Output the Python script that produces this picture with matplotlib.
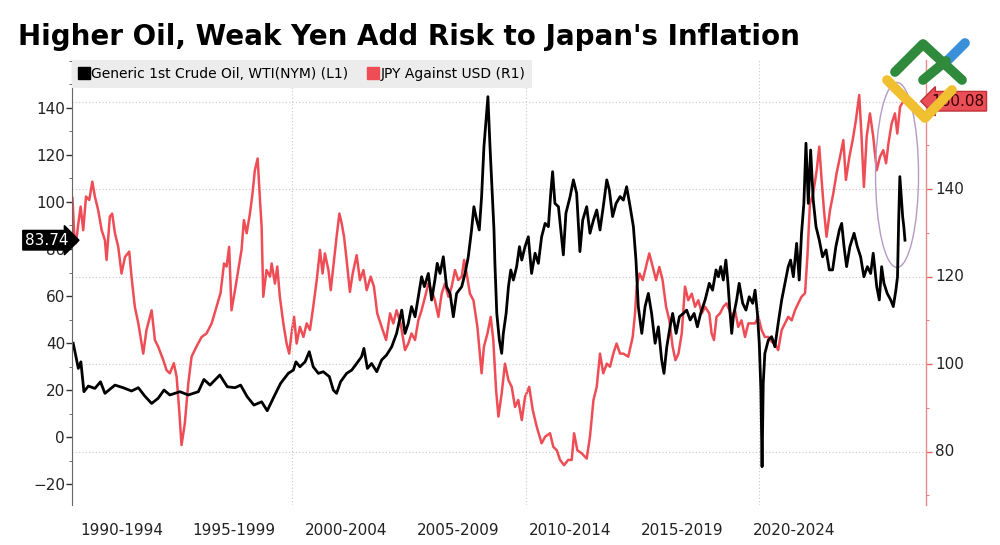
import matplotlib
matplotlib.use("Agg")
import matplotlib.pyplot as plt
from matplotlib.lines import Line2D
from matplotlib.patches import Ellipse
from matplotlib.ticker import MultipleLocator, FixedLocator, NullFormatter

# values (decimal year, value)
oil_years = [1990.63, 1990.75, 1990.85, 1990.96, 1991.09, 1991.28, 1991.56, 1991.80, 1991.99, 1992.42,
             1992.77, 1993.13, 1993.42, 1993.70, 1993.99, 1994.27, 1994.52, 1994.77, 1995.20, 1995.56,
             1995.99, 1996.23, 1996.49, 1996.91, 1997.23, 1997.56, 1997.80, 1998.08, 1998.37, 1998.70,
             1998.94, 1999.23, 1999.51, 1999.84, 2000.06, 2000.17, 2000.34, 2000.56, 2000.74, 2000.91,
             2001.13, 2001.34, 2001.60, 2001.77, 2001.91, 2002.08, 2002.34, 2002.56, 2002.77, 2002.98,
             2003.08, 2003.23, 2003.41, 2003.63, 2003.84, 2004.05, 2004.27, 2004.48, 2004.70, 2004.84,
             2004.98, 2005.12, 2005.27, 2005.41, 2005.55, 2005.67, 2005.84, 2005.98, 2006.12, 2006.22,
             2006.34, 2006.48, 2006.62, 2006.77, 2006.91, 2007.05, 2007.27, 2007.41, 2007.55, 2007.69,
             2007.79, 2007.91, 2008.02, 2008.12, 2008.22, 2008.31, 2008.39, 2008.48, 2008.65, 2008.69,
             2008.77, 2008.88, 2008.98, 2009.05, 2009.17, 2009.27, 2009.37, 2009.48, 2009.62, 2009.74,
             2009.84, 2009.98, 2010.12, 2010.26, 2010.41, 2010.55, 2010.69, 2010.84, 2010.98, 2011.08,
             2011.16, 2011.26, 2011.41, 2011.51, 2011.62, 2011.73, 2011.91, 2012.05, 2012.19, 2012.33,
             2012.45, 2012.62, 2012.76, 2012.91, 2013.05, 2013.19, 2013.33, 2013.48, 2013.59, 2013.73,
             2013.88, 2014.05, 2014.19, 2014.33, 2014.48, 2014.62, 2014.73, 2014.83, 2014.98, 2015.12,
             2015.26, 2015.40, 2015.55, 2015.69, 2015.83, 2015.93, 2016.05, 2016.19, 2016.30, 2016.45,
             2016.59, 2016.76, 2016.90, 2017.05, 2017.22, 2017.36, 2017.50, 2017.69, 2017.87, 2018.01,
             2018.16, 2018.26, 2018.36, 2018.47, 2018.58, 2018.67, 2018.75, 2018.83, 2018.90, 2019.04,
             2019.15, 2019.30, 2019.44, 2019.58, 2019.73, 2019.83, 2019.93, 2020.01, 2020.08, 2020.13,
             2020.18, 2020.25, 2020.40, 2020.54, 2020.68, 2020.82, 2020.97, 2021.11, 2021.25, 2021.35,
             2021.47, 2021.61, 2021.72, 2021.82, 2021.92, 2022.01, 2022.11, 2022.21, 2022.32, 2022.44,
             2022.58, 2022.72, 2022.87, 2023.01, 2023.15, 2023.29, 2023.44, 2023.54, 2023.64, 2023.75,
             2023.89, 2024.07, 2024.21, 2024.35, 2024.49, 2024.64, 2024.78, 2024.89, 2025.04, 2025.15,
             2025.25, 2025.35, 2025.49, 2025.64, 2025.75, 2025.86, 2025.93, 2025.98, 2026.03, 2026.09,
             2026.15, 2026.20, 2026.25]
oil_values = [39.9, 34.2, 29.2, 32.0, 19.3, 21.7, 20.7, 23.5, 18.6, 22.1,
              21.0, 19.6, 21.0, 17.4, 14.3, 16.5, 20.0, 17.9, 19.3, 17.9,
              19.3, 24.5, 22.1, 26.4, 21.4, 21.0, 22.1, 17.2, 13.6, 15.0,
              11.2, 17.2, 22.8, 27.1, 28.5, 32.0, 29.9, 32.0, 36.3, 29.9,
              27.1, 27.8, 25.7, 20.0, 18.6, 23.5, 27.1, 28.5, 31.3, 34.2,
              37.7, 29.2, 31.3, 27.8, 32.8, 34.9, 38.4, 44.1, 54.0, 44.1,
              48.4, 55.5, 51.2, 59.7, 68.2, 64.0, 69.6, 58.3, 66.8, 73.9,
              69.6, 76.7, 64.0, 61.1, 51.2, 61.1, 64.0, 69.6, 76.7, 88.1,
              98.0, 92.3, 88.1, 102.3, 123.5, 134.9, 144.8, 123.5, 88.1, 73.9,
              52.6, 41.3, 35.6, 44.1, 52.6, 64.0, 71.1, 66.8, 72.5, 81.0,
              75.3, 81.0, 85.2, 69.6, 78.2, 73.9, 85.2, 90.9, 89.5, 103.7,
              112.9, 99.4, 98.0, 88.1, 77.5, 95.2, 102.3, 109.4, 103.7, 78.9,
              92.3, 98.0, 86.7, 92.3, 96.6, 88.1, 98.0, 109.4, 105.1, 93.8,
              99.4, 102.3, 100.8, 106.5, 98.0, 89.5, 75.3, 55.5, 44.1, 55.5,
              61.1, 52.6, 39.9, 46.9, 32.8, 27.1, 38.4, 46.9, 52.6, 44.1,
              51.2, 52.6, 54.0, 49.8, 52.6, 46.9, 52.6, 58.3, 65.4, 62.5,
              71.1, 68.2, 72.5, 66.8, 75.3, 65.4, 54.0, 44.1, 51.2, 58.3,
              65.4, 56.9, 54.0, 59.7, 56.9, 62.5, 52.6, 39.9, 20.0, -12.6,
              22.8, 35.6, 41.3, 42.7, 38.4, 48.4, 58.3, 65.4, 72.5, 75.3,
              68.2, 82.4, 66.8, 86.7, 99.4, 125.0, 99.4, 122.1, 100.8, 89.5,
              83.8, 76.7, 79.6, 71.1, 71.1, 81.0, 88.1, 90.9, 81.0, 72.5,
              81.0, 86.7, 81.0, 76.7, 68.2, 72.5, 69.6, 78.2, 64.0, 58.3,
              72.5, 65.4, 61.1, 58.3, 55.5, 62.5, 68.2, 92.3, 110.8, 102.3,
              93.8, 89.5, 83.74]

jpy_years = [1990.60, 1990.68, 1990.75, 1990.85, 1990.95, 1991.06, 1991.18, 1991.32, 1991.45, 1991.56,
             1991.70, 1991.85, 1991.99, 1992.06, 1992.20, 1992.30, 1992.42, 1992.56, 1992.70, 1992.85,
             1993.03, 1993.13, 1993.27, 1993.42, 1993.56, 1993.63, 1993.77, 1993.99, 1994.13, 1994.27,
             1994.49, 1994.63, 1994.77, 1994.94, 1995.06, 1995.17, 1995.27, 1995.41, 1995.56, 1995.70,
             1995.91, 1996.13, 1996.34, 1996.56, 1996.77, 1996.94, 1997.09, 1997.20, 1997.31, 1997.41,
             1997.56, 1997.70, 1997.84, 1997.94, 1998.06, 1998.20, 1998.31, 1998.41, 1998.53, 1998.63,
             1998.70, 1998.77, 1998.91, 1999.06, 1999.13, 1999.27, 1999.37, 1999.48, 1999.63, 1999.77,
             1999.88, 1999.98, 2000.09, 2000.20, 2000.34, 2000.49, 2000.63, 2000.77, 2000.91, 2001.06,
             2001.20, 2001.31, 2001.41, 2001.56, 2001.66, 2001.77, 2001.91, 2002.03, 2002.13, 2002.23,
             2002.34, 2002.48, 2002.60, 2002.77, 2002.91, 2003.06, 2003.20, 2003.37, 2003.51, 2003.65,
             2003.84, 2004.03, 2004.20, 2004.34, 2004.48, 2004.65, 2004.84, 2004.98, 2005.12, 2005.27,
             2005.41, 2005.55, 2005.70, 2005.84, 2005.98, 2006.12, 2006.27, 2006.41, 2006.55, 2006.70,
             2006.84, 2006.98, 2007.12, 2007.27, 2007.37, 2007.48, 2007.62, 2007.77, 2007.94, 2008.12,
             2008.22, 2008.37, 2008.51, 2008.62, 2008.74, 2008.84, 2008.98, 2009.12, 2009.27, 2009.41,
             2009.55, 2009.69, 2009.84, 2009.98, 2010.16, 2010.31, 2010.48, 2010.69, 2010.84, 2011.05,
             2011.19, 2011.34, 2011.48, 2011.65, 2011.83, 2011.98, 2012.08, 2012.22, 2012.41, 2012.62,
             2012.76, 2012.91, 2013.05, 2013.19, 2013.33, 2013.48, 2013.62, 2013.76, 2013.90, 2014.05,
             2014.19, 2014.40, 2014.59, 2014.69, 2014.76, 2014.88, 2015.02, 2015.16, 2015.30, 2015.45,
             2015.59, 2015.73, 2015.87, 2016.02, 2016.16, 2016.30, 2016.42, 2016.55, 2016.69, 2016.83,
             2016.97, 2017.12, 2017.26, 2017.40, 2017.55, 2017.69, 2017.87, 2017.97, 2018.07, 2018.18,
             2018.33, 2018.47, 2018.61, 2018.73, 2018.83, 2018.97, 2019.11, 2019.25, 2019.40, 2019.54,
             2019.68, 2019.83, 2019.97, 2020.11, 2020.25, 2020.40, 2020.54, 2020.68, 2020.82, 2020.97,
             2021.11, 2021.25, 2021.40, 2021.54, 2021.68, 2021.82, 2021.97, 2022.07, 2022.18, 2022.32,
             2022.47, 2022.58, 2022.68, 2022.78, 2022.89, 2023.04, 2023.18, 2023.32, 2023.47, 2023.61,
             2023.72, 2023.87, 2024.01, 2024.15, 2024.29, 2024.39, 2024.49, 2024.61, 2024.75, 2024.89,
             2025.04, 2025.18, 2025.32, 2025.44, 2025.54, 2025.68, 2025.82, 2025.92, 2026.04, 2026.18]
jpy_values = [138.0, 129.0, 127.6, 132.1, 136.0, 130.6, 138.3, 137.5, 141.7, 138.3,
              135.2, 130.6, 128.3, 123.8, 133.7, 134.4, 129.9, 126.8, 120.7, 124.5,
              125.7, 119.9, 113.1, 109.3, 104.7, 102.4, 107.8, 112.3, 105.5, 104.0,
              100.9, 98.6, 97.9, 100.2, 97.1, 89.5, 81.5, 86.4, 95.6, 101.7,
              104.0, 106.2, 107.0, 109.3, 113.1, 116.2, 123.0, 122.3, 126.8, 112.3,
              116.9, 121.5, 126.1, 132.9, 129.9, 134.4, 139.0, 144.3, 147.0, 137.5,
              131.4, 115.4, 121.5, 120.0, 123.0, 118.4, 122.3, 115.4, 109.3, 104.7,
              102.4, 107.0, 110.8, 104.7, 108.5, 106.2, 109.3, 107.8, 113.1, 119.2,
              126.1, 120.7, 125.3, 121.5, 116.9, 122.2, 129.1, 134.4, 132.1, 129.1,
              123.8, 116.5, 120.7, 124.9, 119.2, 121.5, 116.9, 120.0, 117.7, 111.6,
              108.5, 105.5, 111.6, 109.3, 112.3, 109.3, 103.2, 104.7, 107.0, 105.5,
              110.0, 112.3, 115.4, 118.4, 116.9, 114.6, 110.8, 116.1, 118.4, 115.4,
              117.7, 121.5, 119.2, 120.0, 123.8, 120.7, 116.1, 114.6, 108.5, 97.9,
              104.0, 107.0, 110.8, 105.5, 94.1, 88.0, 93.3, 100.1, 96.3, 94.8,
              90.2, 91.8, 87.2, 92.5, 94.8, 89.5, 85.7, 81.9, 83.4, 84.2,
              81.1, 80.3, 78.1, 76.9, 78.1, 78.1, 84.2, 80.3, 79.6, 78.4,
              83.4, 91.8, 94.8, 102.4, 97.9, 100.1, 99.4, 102.4, 104.7, 102.4,
              102.4, 101.7, 106.2, 111.6, 117.7, 120.7, 119.2, 122.2, 125.3, 122.2,
              119.2, 122.2, 119.2, 113.1, 110.0, 104.0, 100.9, 102.4, 107.0, 117.7,
              114.6, 116.1, 113.1, 114.6, 111.6, 113.1, 111.6, 107.0, 105.5, 110.8,
              111.6, 113.1, 113.9, 112.3, 110.8, 112.3, 108.5, 110.0, 106.2, 109.3,
              109.3, 109.3, 110.8, 107.8, 106.2, 106.2, 105.1, 104.7, 103.2, 107.8,
              109.3, 110.8, 110.0, 112.3, 113.9, 115.4, 116.2, 124.5, 136.7, 139.0,
              144.3, 149.7, 142.1, 135.2, 129.1, 135.2, 139.0, 143.6, 147.4, 151.2,
              142.1, 147.4, 151.2, 155.8, 161.5, 152.0, 140.5, 152.0, 157.3, 152.0,
              144.3, 147.4, 148.9, 145.9, 150.4, 155.0, 157.3, 152.7, 158.8, 160.08]

period_labels = ["1990-1994", "1995-1999", "2000-2004", "2005-2009",
                 "2010-2014", "2015-2019", "2020-2024"]
right_tick_labels = [80, 100, 120, 140]
oil_last = "83.74"
jpy_last = "160.08"

RED = "#ef4d56"

fig = plt.figure(figsize=(10, 5.45), dpi=100)
ax = fig.add_axes([0.072, 0.0734, 0.854, 0.8165])
ax2 = ax.twinx()
ax.set_zorder(ax2.get_zorder() + 1)
ax.patch.set_visible(False)

ax2.plot(jpy_years, jpy_values, color=RED, lw=1.8)
ax.plot(oil_years, oil_values, color="black", lw=2.0)

ax.set_xlim(1990.58, 2027.15)
ax.set_ylim(-28.9, 160.4)
ax2.set_ylim(67.8, 169.5)

# x axis: period labels, gridlines every decade
ax.set_xticks([1992.7, 1997.5, 2002.3, 2007.1, 2011.9, 2016.7, 2021.5])
ax.set_xticklabels(period_labels)
ax.set_xticks([2000, 2010, 2020], minor=True)
ax.tick_params(axis="x", which="both", length=0, pad=13, labelsize=11, labelcolor="#222222")
ax.xaxis.grid(True, which="minor", ls=(0, (1, 2)), color="#c8c8c8", lw=0.8)

# left axis (oil)
ax.set_yticks(range(-20, 141, 20))
ax.yaxis.set_minor_locator(MultipleLocator(10))
ax.tick_params(axis="y", which="major", length=4, width=1, color="#333333",
               labelsize=11, labelcolor="#222222", pad=1)
ax.tick_params(axis="y", which="minor", length=2, color="#555555")
for s in ["top", "right", "bottom"]:
    ax.spines[s].set_visible(False)
ax.spines["left"].set_color("#666666")
ax.spines["left"].set_linewidth(0.8)

# right axis (JPY): ticks + grid, labels written as texts
ax2.yaxis.set_major_locator(FixedLocator([80, 100, 120, 140, 160]))
ax2.yaxis.set_minor_locator(FixedLocator([70, 90, 110, 130, 150]))
ax2.yaxis.set_major_formatter(NullFormatter())
ax2.tick_params(axis="y", which="major", length=4, width=1, color="#e06666")
ax2.tick_params(axis="y", which="minor", length=2, color="#e06666")
ax2.yaxis.grid(True, which="major", ls=(0, (1, 2)), color="#c8c8c8", lw=0.8)
for s in ["top", "left", "bottom"]:
    ax2.spines[s].set_visible(False)
ax2.spines["right"].set_color("#e88a8a")
ax2.spines["right"].set_linewidth(1.0)
for v in right_tick_labels:
    ax2.text(1.011, v, str(v), transform=ax2.get_yaxis_transform(), ha="left",
             va="center", fontsize=11, color="#222222", clip_on=False)

# legend
handles = [Line2D([], [], marker="s", ls="", color="black", markersize=8),
           Line2D([], [], marker="s", ls="", color=RED, markersize=8)]
leg = ax.legend(handles, ["Generic 1st Crude Oil, WTI(NYM) (L1)", "JPY Against USD (R1)"],
                loc="upper left", bbox_to_anchor=(0.0, 1.0), ncol=2, frameon=True,
                fancybox=False, facecolor="#ececec", edgecolor="none", framealpha=1,
                borderaxespad=0.0, handlelength=0.7, handletextpad=0.2,
                columnspacing=1.4, fontsize=10, borderpad=0.5)

# last value labels
ax.text(-0.004, oil_values[-1], oil_last, transform=ax.get_yaxis_transform(),
        ha="right", va="center", color="white", fontsize=11, clip_on=False, zorder=10,
        bbox=dict(boxstyle="rarrow,pad=0.15", fc="black", ec="black"))
ax2.text(1.006, jpy_values[-1], jpy_last, transform=ax2.get_yaxis_transform(),
         ha="left", va="center", color="#3a0000", fontsize=11, clip_on=False,
         bbox=dict(boxstyle="larrow,pad=0.15", fc="#ea4f57", ec="#c03038"))

# highlight ellipse around the latest moves
ax.add_patch(Ellipse((2025.91, 111.5), 1.84, 78.7, fill=False, ec="#b59ac6", lw=1.0))

# title
fig.text(0.018, 0.932, "Higher Oil, Weak Yen Add Risk to Japan's Inflation",
         fontsize=20, fontweight="heavy", va="center", ha="left")

# watermark logo (rough)
def seg(pts, color):
    xs = [p[0] / 1000 for p in pts]
    ys = [1 - p[1] / 545 for p in pts]
    fig.add_artist(Line2D(xs, ys, transform=fig.transFigure, color=color, lw=7,
                          solid_capstyle="round", solid_joinstyle="round"))

seg([(946, 62), (965, 43)], "#3a8fd9")
seg([(895, 72), (923, 44), (962, 80)], "#2f8a3c")
seg([(923, 80), (946, 61)], "#2f8a3c")
seg([(887, 80), (925, 118), (952, 90)], "#f0c030")

fig.savefig("out.png", dpi=100)
